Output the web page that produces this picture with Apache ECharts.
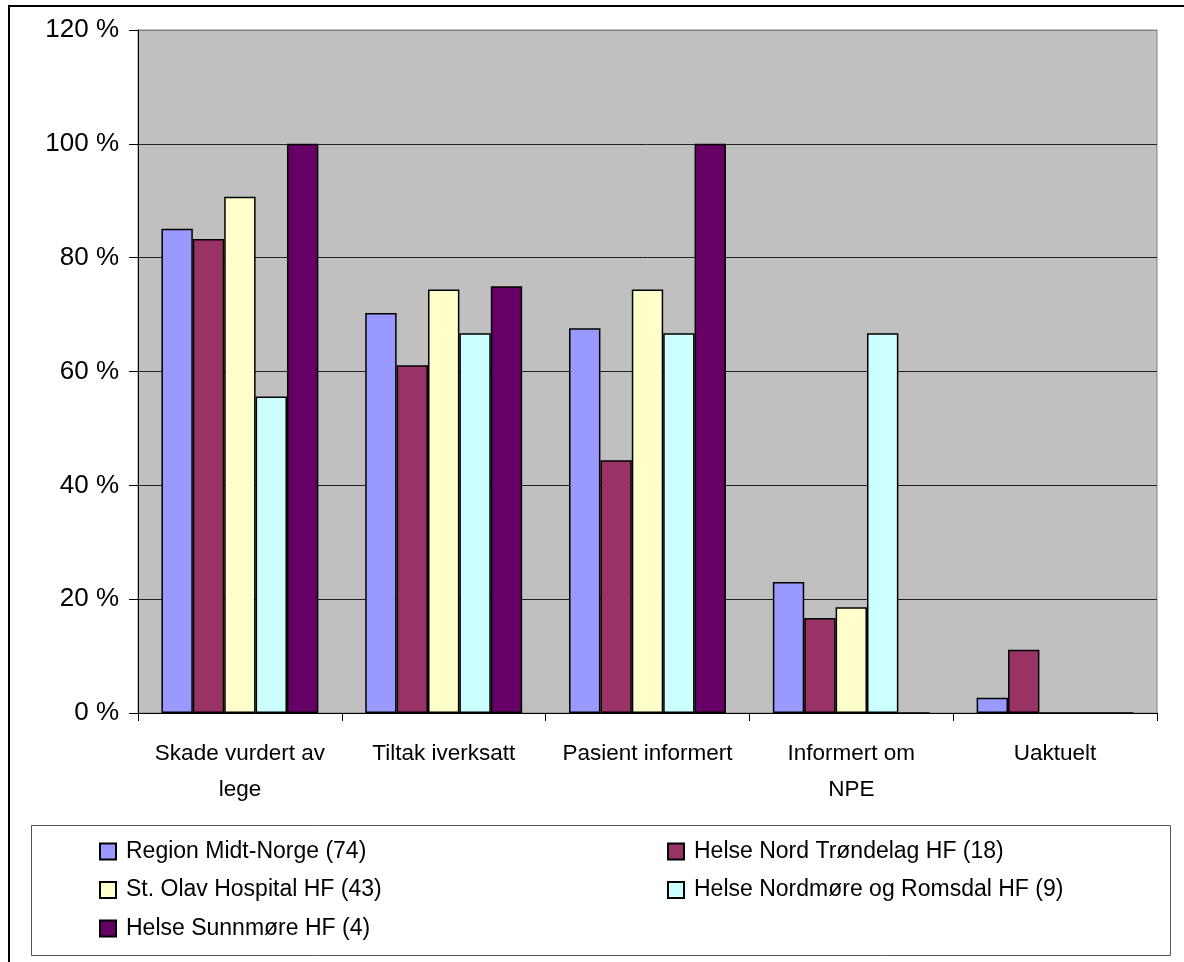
<!DOCTYPE html>
<html>
<head>
<meta charset="utf-8">
<script src="https://cdn.jsdelivr.net/npm/echarts@6/dist/echarts.min.js"></script>
<style>
  html, body { margin: 0; padding: 0; background: #fff; }
  #chart { width: 1184px; height: 962px; }
</style>
</head>
<body>
<div id="chart"></div>
<script>
// Kategorier (x-akse)
const categories = ['Skade vurdert av\nlege', 'Tiltak iverksatt', 'Pasient informert', 'Informert om\nNPE', 'Uaktuelt'];

// Serienavn
const seriesNames = [
  'Region Midt-Norge (74)',
  'Helse Nord Trøndelag HF (18)',
  'St. Olav Hospital HF (43)',
  'Helse Nordmøre og Romsdal HF (9)',
  'Helse Sunnmøre HF (4)'
];

// Andeler i prosent per kategori
const regionMidtNorge = [85.1, 70.3, 67.6, 23.0, 2.7];
const helseNordTrondelag = [83.3, 61.1, 44.4, 16.7, 11.1];
const stOlavHospital = [90.7, 74.4, 74.4, 18.6, 0];
const helseNordmoreRomsdal = [55.6, 66.7, 66.7, 66.7, 0];
const helseSunnmore = [100, 75, 100, 0, 0];

// Y-akse
const yMin = 0, yMax = 120, yStep = 20;

const seriesValues = [regionMidtNorge, helseNordTrondelag, stOlavHospital, helseNordmoreRomsdal, helseSunnmore];
const colors = ['#9999FF', '#993366', '#FFFFCC', '#CCFFFF', '#660066'];

const FONT = '"Liberation Sans", Arial, sans-serif';

const chart = echarts.init(document.getElementById('chart'), null, { renderer: 'canvas' });

const legendText = { fontSize: 23, lineHeight: 23, color: '#000', fontFamily: FONT, padding: [0, 0, 0, 5] };

const option = {
  animation: false,
  backgroundColor: '#ffffff',
  textStyle: { fontFamily: FONT, color: '#000' },
  grid: {
    left: 138, right: 27, top: 30, bottom: 249,
    show: true,
    backgroundColor: '#C0C0C0',
    borderColor: '#808080',
    borderWidth: 1
  },
  xAxis: {
    type: 'category',
    data: categories,
    axisLine: { show: true, lineStyle: { color: '#000', width: 1 } },
    axisTick: { show: true, length: 8, alignWithLabel: false, lineStyle: { color: '#000' } },
    axisLabel: {
      interval: 0,
      margin: 23,
      fontSize: 22.5,
      lineHeight: 36,
      color: '#000',
      fontFamily: FONT
    },
    splitLine: { show: false }
  },
  yAxis: {
    type: 'value',
    min: yMin, max: yMax, interval: yStep,
    axisLine: { show: true, lineStyle: { color: '#000', width: 1 } },
    axisTick: { show: true, length: 9, lineStyle: { color: '#000' } },
    axisLabel: {
      margin: 19,
      fontSize: 26,
      color: '#000',
      fontFamily: FONT,
      formatter: '{value} %'
    },
    splitLine: {
      show: true,
      lineStyle: { color: ['#000', '#222', '#222', '#222', '#222', '#222', '#808080'], width: 1 }
    }
  },
  legend: [
    {
      orient: 'vertical',
      left: 99, top: 840,
      padding: 0,
      icon: 'rect',
      itemWidth: 16, itemHeight: 16,
      itemGap: 15.5,
      selectedMode: false,
      textStyle: legendText,
      data: [seriesNames[0], seriesNames[2], seriesNames[4]]
    },
    {
      orient: 'vertical',
      left: 667, top: 840,
      padding: 0,
      icon: 'rect',
      itemWidth: 16, itemHeight: 16,
      itemGap: 15.5,
      selectedMode: false,
      textStyle: legendText,
      data: [seriesNames[1], seriesNames[3]]
    }
  ],
  graphic: [
    {
      type: 'rect',
      shape: { x: 9, y: 6, width: 1200, height: 1000 },
      style: { fill: 'none', stroke: '#000', lineWidth: 2 },
      silent: true
    },
    {
      type: 'rect',
      shape: { x: 31.5, y: 825.5, width: 1139, height: 130 },
      style: { fill: 'none', stroke: '#555', lineWidth: 1 },
      silent: true
    }
  ],
  series: seriesNames.map((name, i) => ({
    name: name,
    type: 'bar',
    data: seriesValues[i],
    barGap: '0%',
    barCategoryGap: '23%',
    itemStyle: { color: colors[i], borderColor: '#000', borderWidth: 1.5 }
  }))
};

chart.setOption(option);
</script>
</body>
</html>
